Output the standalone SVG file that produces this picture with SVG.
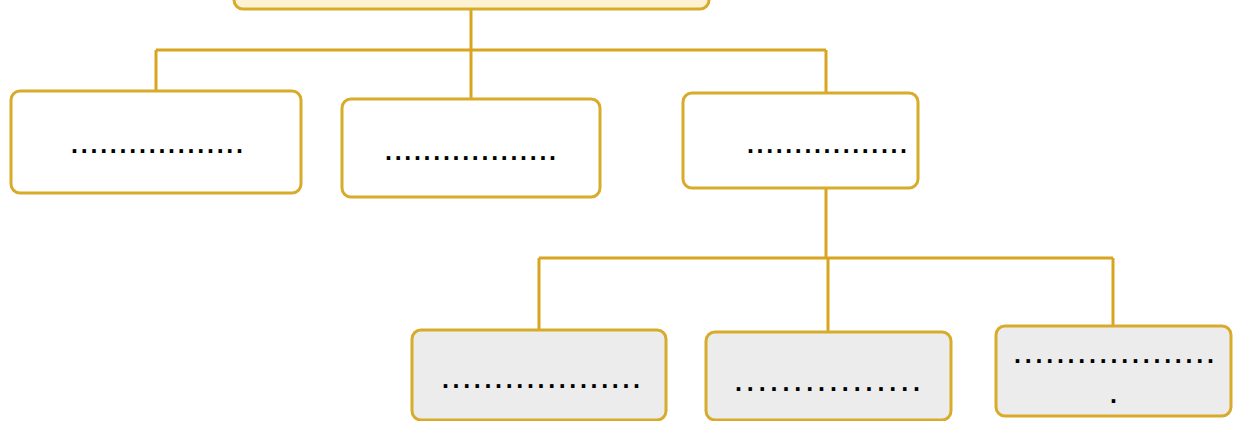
<svg xmlns="http://www.w3.org/2000/svg" width="1235" height="421" viewBox="0 0 1235 421">
<style>
.box{stroke:#d8ab2a;stroke-width:3;}
.w{fill:#ffffff;}
.g{fill:#ececec;}
.y{fill:#fdf2d2;}
.t{font-family:"Liberation Sans",Arial,sans-serif;font-weight:bold;font-size:25px;fill:#000;}
.ln{fill:none;stroke:#d9a520;stroke-width:3;}
</style>
<rect width="1235" height="421" fill="#ffffff"/>
<g id="connectors">
<path class="ln" d="M471,9 V50 M156,50 H826 M156,50 V90 M471,50 V98 M826,50 V92"/>
<path class="ln" d="M826,188 V258 M539,258 H1113 M539,258 V330 M828,258 V332 M1113,258 V326"/>
</g>
<g id="root"><rect class="box y" x="234" y="-20" width="475" height="29" rx="9"/></g>
<g id="n1"><rect class="box w" x="11" y="91" width="290" height="102" rx="9"/>
<text class="t" x="71" y="153" textLength="172" lengthAdjust="spacing">..................</text></g>
<g id="n2"><rect class="box w" x="342" y="99" width="258" height="98" rx="9"/>
<text class="t" x="385" y="160" textLength="171" lengthAdjust="spacing">..................</text></g>
<g id="n3"><rect class="box w" x="683" y="93" width="235" height="95" rx="9"/>
<text class="t" x="747" y="153" textLength="160" lengthAdjust="spacing">.................</text></g>
<g id="n4"><rect class="box g" x="412" y="330" width="254" height="90" rx="9"/>
<text class="t" x="442" y="388" textLength="198" lengthAdjust="spacing">...................</text></g>
<g id="n5"><rect class="box g" x="706" y="332" width="245" height="88" rx="9"/>
<text class="t" x="735" y="391" textLength="185" lengthAdjust="spacing">................</text></g>
<g id="n6"><rect class="box g" x="996" y="326" width="235" height="90" rx="9"/>
<text class="t" x="1014" y="363" textLength="200" lengthAdjust="spacing">...................</text>
<text class="t" x="1110" y="403">.</text></g>
</svg>
